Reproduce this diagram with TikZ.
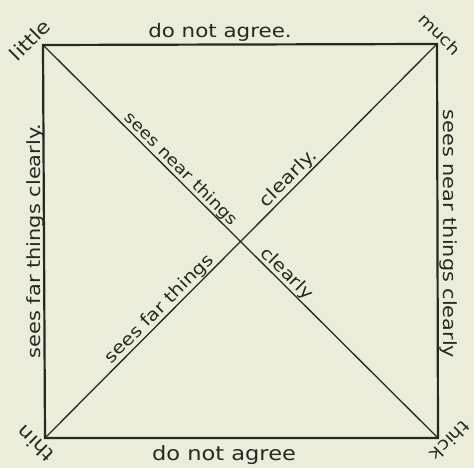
\documentclass[tikz,border=0pt]{standalone}
\usepackage{fontspec}
\setmainfont[FakeStretch=1.15]{DejaVu Sans}
\definecolor{bg}{RGB}{236,236,218}
\definecolor{ink}{RGB}{40,40,35}
\tikzset{
 lbl/.style={text=ink, inner sep=0pt},
 side/.style={lbl, anchor=base},
 diag/.style={lbl, sloped, above=0.5pt},
 frame/.style={draw=ink, line width=2.2pt, line join=miter},
 diagline/.style={draw=ink, line width=1.3pt},
}
\newcommand{\fs}[1]{\fontsize{#1}{#1}\selectfont}
\begin{document}
\begin{tikzpicture}[x=1pt,y=1pt]
\fill[bg] (0,0) rectangle (474,468);
\useasboundingbox (0,0) rectangle (474,468);
\coordinate (TL) at (43,423);
\coordinate (TR) at (437,424);
\coordinate (BR) at (438,30);
\coordinate (BL) at (45,30);
\draw[diagline] (TL) -- (BR)
  node[diag,pos=0.333] (snt) {\fs{16}sees near things}
  node[diag,pos=0.60] (cl1) {\fs{17.2}clearly};
\draw[diagline] (BL) -- (TR)
  node[diag,pos=0.31] (sft) {\fs{17.2}sees far things}
  node[diag,pos=0.64] (cl2) {\fs{18}clearly.};
\draw[frame] (TL) -- (TR) -- (BR) -- (BL) -- cycle;
\node[side] (top) at (220,430) {\fs{18.6}do not agree.};
\node[side] (bot) at (224,7) {\fs{19.6}do not agree};
\node[side, rotate=90] (left) at (40,227) {\fs{18.2}sees far things clearly.};
\node[side, rotate=-90] (right) at (443,234) {\fs{18.1}sees near things clearly};
\node[lbl, rotate=45] (little) at (30,428) {\fs{19}little};
\node[lbl, rotate=-45] (much) at (440,434) {\fs{16}much};
\node[lbl, rotate=135] (thin) at (35,24) {\fs{19}thin};
\node[lbl, rotate=-135] (thick) at (450,27) {\fs{17}thick};
\end{tikzpicture}
\end{document}
